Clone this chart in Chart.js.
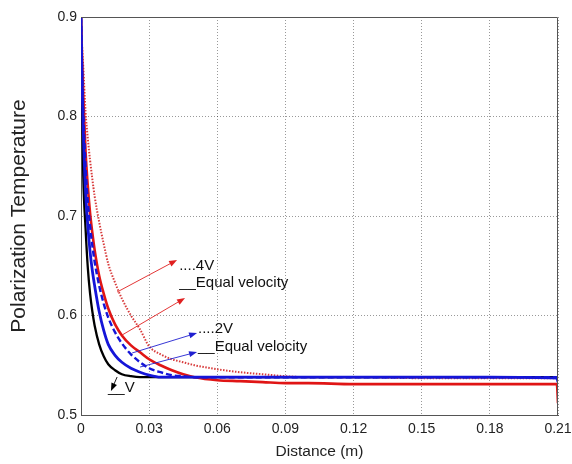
<!DOCTYPE html>
<html>
<head>
<meta charset="utf-8">
<script src="https://cdn.jsdelivr.net/npm/chart.js@4.4.1/dist/chart.umd.min.js"></script>
<style>
  html, body { margin: 0; padding: 0; background: #fff; }
</style>
</head>
<body>
<canvas id="polarChart" width="572" height="464"></canvas>
<script>
// distance along the channel (m)
const distance = [0, 0.0005, 0.001, 0.002, 0.003, 0.004, 0.005, 0.006, 0.008, 0.01,
  0.012, 0.015, 0.018, 0.022, 0.026, 0.03, 0.035, 0.04, 0.045, 0.05,
  0.06, 0.07, 0.08, 0.09, 0.1, 0.12, 0.15, 0.18, 0.2095, 0.21];

// polarization temperature for each case
const tempV = [0.9, 0.81, 0.74, 0.688, 0.648, 0.622, 0.604, 0.59, 0.571, 0.559,
  0.551, 0.545, 0.541, 0.539, 0.538, 0.538, 0.538, 0.538, 0.538, 0.538,
  0.538, 0.538, 0.538, 0.538, 0.538, 0.538, 0.538, 0.538, 0.538, 0.538];
const tempEqual2V = [0.9, 0.83, 0.785, 0.725, 0.69, 0.664, 0.645, 0.63, 0.604, 0.585,
  0.571, 0.56, 0.553, 0.547, 0.543, 0.54, 0.538, 0.538, 0.538, 0.538,
  0.538, 0.538, 0.538, 0.538, 0.538, 0.538, 0.538, 0.538, 0.537, 0.533];
const temp2V = [0.9, 0.845, 0.805, 0.75, 0.715, 0.69, 0.67, 0.654, 0.63, 0.612,
  0.598, 0.583, 0.572, 0.561, 0.553, 0.547, 0.543, 0.54, 0.539, 0.538,
  0.538, 0.538, 0.538, 0.538, 0.538, 0.538, 0.538, 0.538, 0.538, 0.538];
const tempEqual4V = [0.9, 0.855, 0.82, 0.765, 0.73, 0.703, 0.683, 0.666, 0.64, 0.622,
  0.607, 0.591, 0.58, 0.57, 0.563, 0.556, 0.55, 0.545, 0.541, 0.538,
  0.535, 0.534, 0.533, 0.532, 0.532, 0.531, 0.531, 0.531, 0.531, 0.512];
const temp4V = [0.9, 0.87, 0.85, 0.805, 0.778, 0.756, 0.737, 0.72, 0.694, 0.672,
  0.652, 0.633, 0.617, 0.6, 0.586, 0.569, 0.561, 0.556, 0.553, 0.55,
  0.546, 0.543, 0.541, 0.539, 0.538, 0.538, 0.537, 0.537, 0.537, 0.537];

const xTicks = [0, 0.03, 0.06, 0.09, 0.12, 0.15, 0.18, 0.21];
const xTickLabels = ['0', '0.03', '0.06', '0.09', '0.12', '0.15', '0.18', '0.21'];
const yTicks = [0.5, 0.6, 0.7, 0.8, 0.9];
const yTickLabels = ['0.5', '0.6', '0.7', '0.8', '0.9'];

// callout labels: [text, x, y] in data units
const noteLabels = [
  ['....4V', 0.0432, 0.6457],
  ['__Equal velocity', 0.0432, 0.6286],
  ['....2V', 0.0515, 0.5824],
  ['__Equal velocity', 0.0515, 0.5643],
  ['__V', 0.0119, 0.5231]
];
// callout arrows: [x0, y0, x1, y1, colour]
const noteArrows = [
  [0.0159, 0.6236, 0.0423, 0.6558, '#e02020'],
  [0.0181, 0.5804, 0.0458, 0.6176, '#e02020'],
  [0.0225, 0.5623, 0.0511, 0.5824, '#2020d0'],
  [0.026, 0.5482, 0.0511, 0.5633, '#2020d0'],
  [0.0159, 0.5382, 0.0132, 0.5241, '#000000']
];

const FONT = "'Liberation Sans', Arial, sans-serif";

function pts(ys) {
  return distance.map((x, i) => ({ x: x, y: ys[i] }));
}

const datasets = [
  { data: pts(tempEqual2V), borderColor: '#1515d8', borderWidth: 2.8 },
  { data: pts(temp2V), borderColor: '#1515d8', borderWidth: 2.4, borderDash: [6, 3] },
  { data: pts(tempEqual4V), borderColor: '#e01515', borderWidth: 2.6 },
  { data: pts(temp4V), borderColor: '#d83c3c', borderWidth: 2, borderDash: [1.5, 1.5] },
  { data: pts(tempV), borderColor: '#000000', borderWidth: 2.3 }
].map(d => Object.assign({
  pointRadius: 0,
  fill: false,
  cubicInterpolationMode: 'monotone'
}, d));

// top/right frame and the callouts
const extras = {
  id: 'extras',
  afterDraw(chart) {
    const c = chart.ctx;
    const a = chart.chartArea;
    const xs = chart.scales.x, ys = chart.scales.y;
    c.save();
    c.strokeStyle = '#555';
    c.lineWidth = 1;
    c.beginPath();
    c.moveTo(a.left, a.top + 0.5);
    c.lineTo(a.right - 0.5, a.top + 0.5);
    c.lineTo(a.right - 0.5, a.bottom);
    c.stroke();

    noteArrows.forEach(([x0, y0, x1, y1, col]) => {
      const p0 = [xs.getPixelForValue(x0), ys.getPixelForValue(y0)];
      const p1 = [xs.getPixelForValue(x1), ys.getPixelForValue(y1)];
      const ang = Math.atan2(p1[1] - p0[1], p1[0] - p0[0]);
      c.strokeStyle = col;
      c.fillStyle = col;
      c.lineWidth = 0.9;
      c.beginPath();
      c.moveTo(p0[0], p0[1]);
      c.lineTo(p1[0] - 5 * Math.cos(ang), p1[1] - 5 * Math.sin(ang));
      c.stroke();
      c.beginPath();
      c.moveTo(p1[0], p1[1]);
      c.lineTo(p1[0] - 8 * Math.cos(ang) + 3 * Math.sin(ang), p1[1] - 8 * Math.sin(ang) - 3 * Math.cos(ang));
      c.lineTo(p1[0] - 8 * Math.cos(ang) - 3 * Math.sin(ang), p1[1] - 8 * Math.sin(ang) + 3 * Math.cos(ang));
      c.closePath();
      c.fill();
    });

    c.fillStyle = '#111';
    c.font = '15px ' + FONT;
    c.textAlign = 'left';
    c.textBaseline = 'alphabetic';
    noteLabels.forEach(([t, x, y]) => {
      c.fillText(t, xs.getPixelForValue(x), ys.getPixelForValue(y));
    });
    c.restore();
  }
};

const ctx = document.getElementById('polarChart').getContext('2d');
new Chart(ctx, {
  type: 'line',
  data: { datasets: datasets },
  options: {
    responsive: false,
    animation: false,
    layout: { padding: { top: 17, right: 14, left: 0, bottom: 0 } },
    plugins: { legend: { display: false }, tooltip: { enabled: false } },
    scales: {
      x: {
        type: 'linear',
        min: 0,
        max: 0.21,
        afterBuildTicks: axis => { axis.ticks = xTicks.map(v => ({ value: v })); },
        afterFit: axis => {
          axis.height = 49;
          axis.paddingLeft = 0;
          axis.paddingRight = 0;
        },
        ticks: {
          autoSkip: false,
          maxRotation: 0,
          padding: 6,
          color: '#222',
          font: { family: FONT, size: 14 },
          callback: (v, i) => xTickLabels[i]
        },
        grid: { color: 'rgba(0,0,0,0.4)', drawTicks: false },
        border: { color: '#555', width: 1, dash: [1, 2] },
        title: {
          display: true,
          text: 'Distance (m)',
          color: '#222',
          font: { family: FONT, size: 15.5 },
          padding: { top: 0, bottom: 3 }
        }
      },
      y: {
        type: 'linear',
        min: 0.5,
        max: 0.9,
        afterBuildTicks: axis => { axis.ticks = yTicks.map(v => ({ value: v })); },
        afterFit: axis => {
          axis.width = 81;
          axis.paddingTop = 0;
          axis.paddingBottom = 0;
        },
        ticks: {
          padding: 4,
          color: '#222',
          font: { family: FONT, size: 14 },
          callback: (v, i) => yTickLabels[i]
        },
        grid: { color: 'rgba(0,0,0,0.4)', drawTicks: false },
        border: { color: '#555', width: 1, dash: [1, 2] },
        title: {
          display: true,
          text: 'Polarization Temperature',
          color: '#222',
          font: { family: FONT, size: 21 },
          padding: { top: 7, bottom: 0 }
        }
      }
    }
  },
  plugins: [extras]
});
</script>
</body>
</html>
